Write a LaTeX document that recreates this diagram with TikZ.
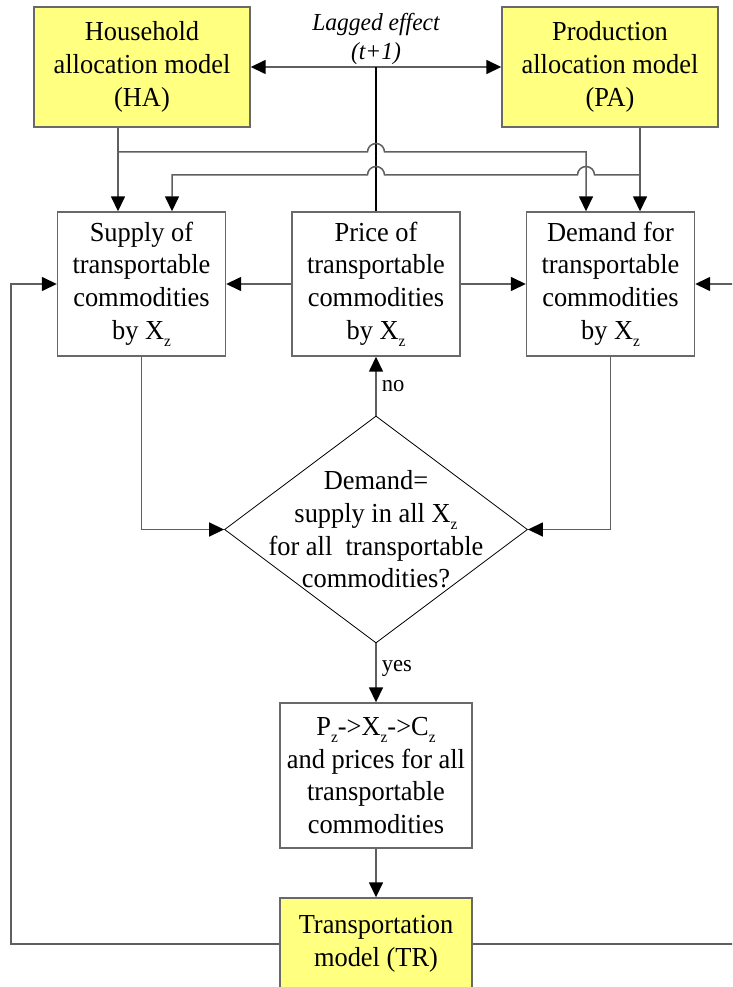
\documentclass[tikz,border=0pt]{standalone}
\usepackage{fontspec}
\setmainfont{Liberation Serif}[FakeStretch=0.96]
\usetikzlibrary{arrows.meta,shapes.geometric,calc}
\definecolor{boxyellow}{RGB}{255,255,128}
\definecolor{wire}{RGB}{95,95,95}
\definecolor{frame}{RGB}{105,105,105}
% lowered subscript z used in the zone labels
\newcommand{\zsub}{\raisebox{-7pt}{\fontsize{16}{16}\selectfont z}}

\begin{document}
\begin{tikzpicture}[x=1pt,y=1pt,
  txt/.style={font=\fontsize{27.5}{32.7}\selectfont, align=center},
  stepbox/.style={txt, draw=frame, line width=1.4pt, fill=white,
    minimum width=168pt, minimum height=144pt, inner sep=0pt},
  model/.style={stepbox, fill=boxyellow, minimum width=216pt, minimum height=120pt},
  decision/.style={diamond, draw=black, line width=0.8pt,
    minimum width=303pt, minimum height=227pt, inner sep=0pt},
  wirestyle/.style={draw=wire, line width=1.5pt},
  arr/.style={wirestyle, -{Triangle[length=15pt,width=14pt,color=black]}},
  lbl/.style={font=\fontsize{23.5}{28}\selectfont, inner sep=0pt},
]
\path[use as bounding box] (0,0) rectangle (732,-987);
\clip (0,0) rectangle (732,-987);

% model boxes
\node[model] (HA) at (142,-67) {Household\\allocation model\\(HA)};
\node[model] (PA) at (610,-67) {Production\\allocation model\\(PA)};
\node[txt, font=\fontsize{24.5}{29}\selectfont\itshape] (lag) at (376,-39) {Lagged effect\\(t+1)};

% zone boxes
\node[stepbox] (sup) at (141.5,-284) {Supply of\\transportable\\commodities\\by X\zsub};
\node[stepbox] (pri) at (376,-284) {Price of\\transportable\\commodities\\by X\zsub};
\node[stepbox] (dem) at (610.5,-284) {Demand for\\transportable\\commodities\\by X\zsub};

% equilibrium test
\node[decision] (dec) at (376,-529.5) {};
\node[txt] (dectext) at (dec.center) {Demand=\\supply in all X\zsub\\for all\ \ transportable\\commodities?};

\node[stepbox, minimum width=192pt, minimum height=145pt] (pz) at (376,-775.5)
  {P\zsub->X\zsub->C\zsub\\and prices for all\\transportable\\commodities};
\node[model, minimum width=192pt, minimum height=92pt] (tr) at (376,-944) {Transportation\\model (TR)};

% helper columns and rows for the wiring
\coordinate (xa) at (118,0);
\coordinate (xb) at (172,0);
\coordinate (xc) at (586,0);
\coordinate (xd) at (640,0);
\coordinate (ya) at (0,-152);
\coordinate (yb) at (0,-175);
\coordinate (lx) at (11,0);
\coordinate (rx) at (745,0);

% lagged effect
\coordinate (lagfork) at (pri.north |- HA.east);
\draw[arr] (lagfork) -- (HA.east);
\draw[arr] (lagfork) -- (PA.west);
\draw[wirestyle, draw=black] (lagfork) -- (pri.north);

% allocation models to supply and demand
\draw[arr] (HA.south -| xa) -- (sup.north -| xa);
\draw[arr] (PA.south -| xd) -- (dem.north -| xd);
\draw[arr] (xa |- ya) -- ($(pri.north |- ya)+(-8.5,0)$) arc (180:0:8.5pt)
  -- (xc |- ya) -- (dem.north -| xc);
\draw[arr] (xd |- yb) -- ($(xc |- yb)+(8.5,0)$) arc (0:180:8.5pt)
  -- ($(pri.north |- yb)+(8.5,0)$) arc (0:180:8.5pt)
  -- (xb |- yb) -- (sup.north -| xb);

% price to supply and demand
\draw[arr] (pri.west) -- (sup.east);
\draw[arr] (pri.east) -- (dem.west);

% into the test
\draw[arr] (sup.south) |- (dec.west);
\draw[arr] (dem.south) |- (dec.east);
\draw[arr] (dec.north) -- node[lbl, anchor=west, xshift=5pt] {no} (pri.south);
\draw[arr] (dec.south) -- node[lbl, anchor=west, xshift=5pt, pos=0.42] {yes} (pz.north);
\draw[arr] (pz.south) -- (tr.north);

% transportation feedback
\draw[arr] (tr.west) -- (lx |- tr.west) -- (lx |- sup.west) -- (sup.west);
\draw[arr] (tr.east) -- (rx |- tr.east) -- (rx |- dem.east) -- (dem.east);
\end{tikzpicture}
\end{document}
